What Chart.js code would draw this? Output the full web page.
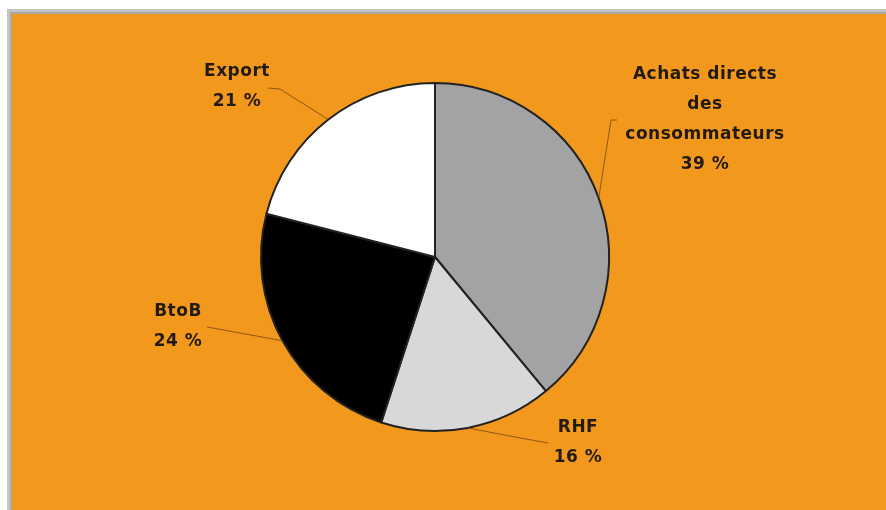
<!DOCTYPE html>
<html>
<head>
<meta charset="utf-8">
<script src="https://cdn.jsdelivr.net/npm/chart.js@4.4.1/dist/chart.umd.min.js"></script>
<style>
  html, body { margin: 0; padding: 0; background: #ffffff; }
  #wrap { width: 886px; height: 510px; position: relative; }
</style>
</head>
<body>
<div id="wrap"><canvas id="repartition_chart" width="886" height="510"></canvas></div>
<script>
var labels = [
  ["Achats directs", "des", "consommateurs"],
  ["RHF"],
  ["BtoB"],
  ["Export"]
];
var percents = [39, 16, 24, 21];
var colors = ["#a3a3a3", "#d8d8d8", "#000000", "#ffffff"];

// where each label block sits, and the bend of its leader line
var labelPos = [
  { x: 705, y: 75, elbow: [611, 120], end: [617, 120] },
  { x: 578, y: 428, elbow: [515, 437], end: [548, 443] },
  { x: 178, y: 312, elbow: [240, 333], end: [207, 327] },
  { x: 237, y: 72, elbow: [280, 89], end: [268, 88] }
];

var frame = {
  id: 'frame',
  beforeDraw: function (chart) {
    var c = chart.ctx;
    c.save();
    c.fillStyle = '#ffffff';
    c.fillRect(0, 0, chart.width, chart.height);
    c.fillStyle = '#c4c4c4';
    c.fillRect(7, 9, chart.width - 7, chart.height - 9);
    c.fillStyle = '#a9a9a9';
    c.fillRect(10, 12, chart.width - 10, chart.height - 12);
    c.fillStyle = '#f2991d';
    c.fillRect(12, 14, chart.width - 12, chart.height - 14);
    c.restore();
  }
};

var calloutLabels = {
  id: 'calloutLabels',
  afterDatasetsDraw: function (chart) {
    var c = chart.ctx;
    var arcs = chart.getDatasetMeta(0).data;
    c.save();
    arcs.forEach(function (arc, i) {
      var p = labelPos[i];
      var mid = (arc.startAngle + arc.endAngle) / 2;
      var sx = arc.x + Math.cos(mid) * arc.outerRadius;
      var sy = arc.y + Math.sin(mid) * arc.outerRadius;
      c.strokeStyle = 'rgba(120,70,20,0.8)';
      c.lineWidth = 1;
      c.beginPath();
      c.moveTo(sx, sy);
      c.lineTo(p.elbow[0], p.elbow[1]);
      c.lineTo(p.end[0], p.end[1]);
      c.stroke();

      var lines = labels[i].concat([percents[i] + ' %']);
      c.fillStyle = '#231a12';
      c.font = 'bold 17px "DejaVu Sans"';
      c.letterSpacing = '0.5px';
      c.textAlign = 'center';
      c.textBaseline = 'middle';
      lines.forEach(function (t, k) {
        c.fillText(t, p.x, p.y + k * 30);
      });
    });
    c.restore();
  }
};

var ctx = document.getElementById('repartition_chart').getContext('2d');
var chartInstance = new Chart(ctx, {
  type: 'pie',
  data: {
    labels: labels.map(function (l) { return l.join(' '); }),
    datasets: [{
      data: percents,
      backgroundColor: colors,
      borderColor: '#222222',
      borderWidth: 2
    }]
  },
  options: {
    responsive: false,
    animation: false,
    layout: { padding: { left: 235, right: 251, top: 82, bottom: 78 } },
    plugins: {
      legend: { display: false },
      tooltip: { enabled: false }
    }
  },
  plugins: [frame, calloutLabels]
});
</script>
</body>
</html>
